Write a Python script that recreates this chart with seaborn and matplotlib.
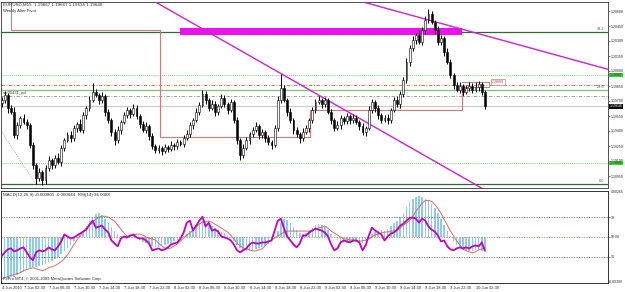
import numpy as np
import matplotlib
matplotlib.use("Agg")
import matplotlib.pyplot as plt
import seaborn as sns

sns.set_style("white")
plt.rcParams['font.family'] = ['Liberation Sans', 'DejaVu Sans']

# --- price bars at 30 min steps ---
closes = [1.1971, 1.1976, 1.1963, 1.1959, 1.1936, 1.1946, 1.1953, 1.1949, 1.1946, 1.1926,
          1.1906, 1.1893, 1.1899, 1.1891, 1.1903, 1.1911, 1.1906, 1.1913, 1.1909, 1.1923,
          1.1931, 1.1936, 1.1933, 1.1943, 1.1947, 1.1941, 1.1956, 1.1963, 1.1971, 1.1979,
          1.1976, 1.1971, 1.1975, 1.1959, 1.1951, 1.1939, 1.1931, 1.1941, 1.1949, 1.1956,
          1.1961, 1.1957, 1.1963, 1.1955, 1.1947, 1.1941, 1.1945, 1.1935, 1.1925, 1.1921,
          1.1923, 1.1920, 1.1924, 1.1922, 1.1926, 1.1925, 1.1929, 1.1927, 1.1933, 1.1937,
          1.1946, 1.1951, 1.1959, 1.1966, 1.1977, 1.1971, 1.1963, 1.1967, 1.1959, 1.1965,
          1.1973, 1.1967, 1.1961, 1.1969, 1.1951, 1.1931, 1.1916, 1.1923, 1.1931, 1.1937,
          1.1941, 1.1945, 1.1936, 1.1939, 1.1933, 1.1929, 1.1926, 1.1943, 1.1971, 1.1983,
          1.1971, 1.1959, 1.1951, 1.1941, 1.1937, 1.1933, 1.1939, 1.1943, 1.1951, 1.1961,
          1.1969, 1.1971, 1.1967, 1.1971, 1.1959, 1.1951, 1.1943, 1.1946, 1.1953, 1.1950,
          1.1955, 1.1951, 1.1953, 1.1949, 1.1945, 1.1939, 1.1943, 1.1961, 1.1969, 1.1963,
          1.1956, 1.1951, 1.1953, 1.1951, 1.1961, 1.1971, 1.1967, 1.1977, 1.1991, 1.2009,
          1.2023, 1.2031, 1.2036, 1.2029, 1.2041, 1.2051, 1.2057, 1.2049, 1.2041, 1.2029,
          1.2033, 1.2019, 1.2009, 1.1996, 1.1986, 1.1981, 1.1985, 1.1979, 1.1983, 1.1985,
          1.1981, 1.1984, 1.1987, 1.1979, 1.19648]
first_open = 1.1968
# wick lengths in pips
wick_up = [3, 4, 2, 3, 5, 3, 2, 4, 3, 2,
           3, 2, 4, 2, 3, 4, 2, 3, 5, 3,
           2, 3, 4, 3, 2, 5, 3, 2, 4, 9,
           3, 2, 4, 2, 3, 2, 3, 4, 2, 3,
           3, 2, 4, 3, 2, 3, 4, 2, 3, 2,
           3, 2, 3, 2, 4, 2, 3, 2, 3, 4,
           3, 2, 4, 3, 4, 3, 2, 4, 3, 2,
           4, 3, 2, 3, 2, 3, 2, 4, 3, 2,
           3, 4, 2, 3, 2, 3, 2, 3, 4, 14,
           3, 2, 4, 2, 3, 2, 4, 3, 2, 3,
           3, 4, 2, 3, 2, 3, 2, 4, 3, 2,
           3, 2, 4, 3, 2, 3, 2, 4, 3, 2,
           3, 2, 3, 4, 2, 3, 4, 3, 3, 4,
           3, 4, 2, 5, 3, 4, 5, 3, 2, 4,
           3, 2, 4, 3, 2, 3, 4, 2, 3, 4,
           3, 5, 3, 2, 2]
wick_dn = [4, 3, 5, 2, 3, 4, 3, 2, 4, 3,
           4, 6, 3, 5, 4, 3, 4, 3, 2, 4,
           3, 2, 4, 3, 4, 2, 3, 4, 3, 2,
           2, 4, 3, 4, 3, 4, 5, 3, 4, 2,
           3, 4, 2, 3, 4, 2, 3, 4, 3, 3,
           3, 4, 2, 3, 2, 4, 3, 2, 3, 2,
           3, 4, 2, 3, 2, 4, 3, 2, 4, 3,
           2, 3, 4, 2, 3, 4, 5, 3, 2, 4,
           3, 2, 4, 3, 4, 3, 4, 2, 3, 3,
           2, 4, 3, 4, 3, 5, 3, 2, 4, 3,
           3, 2, 4, 3, 2, 4, 3, 2, 4, 3,
           3, 4, 3, 2, 4, 3, 4, 2, 3, 4,
           4, 3, 2, 4, 3, 2, 3, 4, 3, 3,
           4, 3, 4, 2, 3, 4, 3, 2, 4, 3,
           3, 4, 2, 3, 4, 2, 3, 4, 2, 3,
           3, 2, 4, 3, 3]

# --- MACD(12,26,9) main and signal, in 1e-5 ---
macd_main = np.array([
    -258, -252, -246, -240, -240, -228, -216, -210, -198, -186,
    -180, -180, -174, -168, -162, -150, -144, -132, -120, -102,
    -84, -66, -48, -24, -6, 12, 36, 66, 96, 120,
    138, 144, 132, 108, 84, 60, 36, 18, 6, 0,
    6, 12, 6, -6, -18, -30, -36, -48, -54, -60,
    -60, -54, -48, -42, -36, -24, -18, -6, 6, 18,
    36, 54, 72, 84, 96, 90, 78, 66, 54, 42,
    30, 24, 12, -6, -24, -48, -66, -78, -84, -84,
    -78, -72, -66, -60, -54, -42, -24, 0, 36, 84,
    108, 102, 84, 60, 42, 24, 18, 24, 36, 54,
    72, 78, 72, 60, 42, 18, 0, -18, -30, -36,
    -36, -36, -30, -30, -36, -36, -24, -6, 18, 30,
    36, 42, 36, 48, 66, 84, 96, 120, 144, 180,
    210, 228, 240, 246, 240, 228, 216, 198, 174, 144,
    108, 72, 36, 6, -24, -48, -66, -78, -84, -84,
    -84, -78, -78, -84, -80]) / 1e5
macd_signal = np.array([
    -252, -246, -240, -234, -228, -222, -216, -204, -198, -192,
    -186, -192, -198, -204, -198, -186, -180, -174, -162, -150,
    -132, -108, -78, -48, -18, 6, 30, 54, 72, 90,
    108, 120, 126, 126, 120, 108, 96, 72, 48, 24,
    6, 6, 12, 18, 18, 12, 0, -6, -12, -18,
    -36, -54, -66, -72, -66, -54, -42, -24, -6, 12,
    24, 42, 60, 78, 90, 96, 96, 90, 78, 66,
    54, 42, 30, 12, -12, -36, -54, -66, -72, -78,
    -84, -84, -78, -72, -54, -30, -18, -6, 6, 18,
    30, 36, 36, 36, 36, 36, 36, 36, 36, 42,
    48, 54, 60, 66, 54, 36, 24, 12, 0, -12,
    -12, -18, -18, -24, -24, -24, -18, -12, 0, 12,
    18, 24, 30, 30, 36, 36, 42, 54, 72, 84,
    102, 126, 156, 180, 204, 222, 222, 216, 198, 174,
    144, 108, 72, 36, 6, -24, -48, -72, -84, -90,
    -96, -90, -78, -72, -64]) / 1e5

# --- RSI(14) ---
rsi = [30.5, 34.5, 37.5, 38.5, 35.5, 36.5, 38.5, 39.5, 34.5, 29.5,
       26.5, 34.5, 36.5, 35.5, 36.5, 39.5, 37.5, 36.5, 40.5, 45.5,
       52.5, 50.5, 48.5, 49.5, 51.5, 53.5, 55.5, 57.5, 62.5, 66.5,
       59.5, 60.5, 61.5, 57.5, 54.5, 46.5, 43.5, 40.5, 48.5, 50.5,
       49.5, 51.5, 52.5, 49.5, 48.5, 48.5, 46.5, 43.5, 36.5, 37.5,
       38.5, 36.5, 37.5, 39.5, 42.5, 43.5, 44.5, 48.5, 54.5, 64.5,
       66.5, 56.5, 61.5, 66.5, 70.5, 60.5, 64.5, 56.5, 57.5, 55.5,
       50.5, 49.5, 48.5, 46.5, 42.5, 36.5, 34.5, 36.5, 38.5, 42.5,
       44.5, 43.5, 43.5, 44.5, 44.5, 45.5, 46.5, 56.5, 66.5, 68.5,
       58.5, 50.5, 46.5, 42.5, 39.5, 43.5, 51.5, 51.5, 54.5, 56.5,
       58.5, 57.5, 56.5, 54.5, 50.5, 42.5, 36.5, 38.5, 44.5, 46.5,
       45.5, 44.5, 46.5, 46.5, 44.5, 36.5, 41.5, 51.5, 59.5, 56.5,
       54.5, 52.5, 46.5, 50.5, 53.5, 54.5, 57.5, 61.5, 63.5, 66.5,
       69.5, 69.5, 68.5, 64.5, 68.5, 66.5, 60.5, 57.5, 55.5, 51.5,
       45.5, 46.5, 40.5, 37.5, 36.5, 38.5, 39.5, 38.5, 39.5, 38.5,
       40.5, 41.5, 40.5, 44.5, 36.04]

# --- objects drawn on the chart ---
fib_levels = [1.2039, 1.1981, 1.1887]
fib_names = ["38.2", "23.6", "0.0"]
fib_colors = ["#2e6b2e", "#7fbf7f", "#2e6b2e"]
green_dotted = [1.1996, 1.1908]
brown_dashdot = 1.1986
gray_dashdot = 1.1975
bid = 1.19648
zone_x = [56.8, 146.6]
zone_y = [1.2036, 1.2043]
trend1_x, trend1_y = [47.9, 154.0], [1.2071, 1.1881]
trend2_x, trend2_y = [114.0, 194.0], [1.2070, 1.2001]
step_x = [3.0, 3.0, 50.5, 50.5, 98.2, 98.2, 146.6, 146.6]
step_y = [1.2080, 1.2041, 1.2041, 1.1934, 1.1934, 1.1961, 1.1961, 1.1984]
box_x, box_y = [146.6, 155.2], [1.1984, 1.1989]
diag_x, diag_y = [0.1, 10.0], [1.1939, 1.1891]

price_ticks = [1.2060, 1.2045, 1.2030, 1.2015, 1.2000, 1.1985, 1.1970,
               1.1955, 1.1940, 1.1925, 1.1910, 1.1895]
time_labels = ["4 Jun 2010", "7 Jun 02:30", "7 Jun 06:30", "7 Jun 10:30", "7 Jun 14:30",
               "7 Jun 18:30", "7 Jun 22:30", "8 Jun 02:30", "8 Jun 06:30", "8 Jun 10:30",
               "8 Jun 14:30", "8 Jun 18:30", "8 Jun 22:30", "9 Jun 02:30", "9 Jun 06:30",
               "9 Jun 10:30", "9 Jun 14:30", "9 Jun 18:30", "9 Jun 22:30", "10 Jun 02:30"]
time_ticks = [0] + [7 + 8 * k for k in range(19)]

n = len(closes)
bars = np.arange(n)
opens = np.array([first_open] + closes[:-1])
closes = np.array(closes)
highs = np.maximum(opens, closes) + np.array(wick_up) * 1e-4
lows = np.minimum(opens, closes) - np.array(wick_dn) * 1e-4

W, H = 625, 292
fig = plt.figure(figsize=(W / 100, H / 100), dpi=100)
fig.patch.set_facecolor("white")
ax = fig.add_axes([1 / W, (H - 188) / H, 607 / W, 186 / H])
ax_ind = fig.add_axes([1 / W, (H - 283) / H, 607 / W, 92 / H])
xlim = (-0.18, 193.2)
FS = 2.9
FSR = 2.55

# main pane
ax.set_xlim(*xlim)
ax.set_ylim(1.1883, 1.2069)
for lvl, c in zip(fib_levels, fib_colors):
    ax.axhline(lvl, color=c, lw=0.9, zorder=1)
for lvl in green_dotted:
    ax.axhline(lvl, color="#44c044", lw=0.6, ls=(0, (1, 1.5)), zorder=1)
ax.axhline(brown_dashdot, color="#b8704a", lw=0.6, ls=(0, (4, 2, 1, 2)), zorder=1)
ax.axhline(gray_dashdot, color="#909090", lw=0.6, ls=(0, (4, 2, 1, 2)), zorder=1)
ax.axhline(bid, color="#c8c8c8", lw=0.8, zorder=1)
ax.fill_between(zone_x, zone_y[0], zone_y[1], color="#ee10ee", lw=0, zorder=2)
ax.plot(step_x, step_y, color="#d07a7a", lw=0.8, zorder=2)
ax.plot([box_x[0], box_x[1], box_x[1], box_x[0]], [box_y[1], box_y[1], box_y[0], box_y[0]],
        color="#d07a7a", lw=0.7, zorder=2)
ax.plot(diag_x, diag_y, color="#c08878", lw=0.6, ls=":", zorder=2)
ax.plot(trend1_x, trend1_y, color="#cc22cc", lw=1.0, zorder=3)
ax.plot(trend2_x, trend2_y, color="#cc22cc", lw=1.0, zorder=3)

# candles
ax.vlines(bars, lows, highs, color="black", lw=0.7, zorder=4)
up = closes >= opens
body_h = np.maximum(np.abs(closes - opens), 0.00004)
body_b = np.minimum(opens, closes)
ax.bar(bars[up], body_h[up], bottom=body_b[up], width=0.6, color="white",
       edgecolor="black", lw=0.4, zorder=5)
ax.bar(bars[~up], body_h[~up], bottom=body_b[~up], width=0.6, color="black",
       edgecolor="black", lw=0.4, zorder=5)

ax.yaxis.tick_right()
ax.set_yticks(price_ticks)
ax.set_yticklabels([f"{p:.5f}" for p in price_ticks], fontsize=FSR)
ax.set_xticks([])
ax.tick_params(axis="y", direction="out", length=1.5, width=0.4, pad=0.6)
for s in ax.spines.values():
    s.set_linewidth(0.6)
    s.set_color("#333333")

for lvl, name in zip(fib_levels, fib_names):
    ax.text(192.0, lvl + 0.00008, name, fontsize=2.8, color="#555555", ha="right", va="bottom")
for lvl in green_dotted:
    ax.annotate(f"{lvl:.5f}", xy=(1.0, lvl), xycoords=("axes fraction", "data"),
                xytext=(1.2, 0), textcoords="offset points", fontsize=FSR, va="center",
                bbox=dict(boxstyle="square,pad=0.12", fc="#33dd33", ec="none"))
ax.annotate(f"{bid:.5f}", xy=(1.0, bid), xycoords=("axes fraction", "data"),
            xytext=(1.2, 0), textcoords="offset points", fontsize=FSR, va="center", color="white",
            bbox=dict(boxstyle="square,pad=0.12", fc="black", ec="none"))
ax.text(156.0, box_y[1], f"{box_y[1]:.5f}", fontsize=2.6, color="#c04040", va="center",
        bbox=dict(boxstyle="square,pad=0.15", fc="white", ec="#d07a7a", lw=0.5))
ax.text(0.5, gray_dashdot + 0.0003, "ssr05431_ed", fontsize=3.0, color="#333333")

# indicator pane
ax_ind.set_xlim(*xlim)
ax_ind.set_ylim(-0.00279, 0.00279)
ax_ind.bar(bars, macd_main, width=0.5, color="#8ecbe8", lw=0, zorder=1)
sns.lineplot(x=bars, y=macd_signal, ax=ax_ind, color="#cd7060", lw=0.7, zorder=2)
ax_ind.set_yticks([])
ax_ind.set_ylabel("")
ax_ind.set_xticks(time_ticks)
ax_ind.set_xticklabels(time_labels, fontsize=FS, ha="left")
ax_ind.tick_params(axis="x", direction="out", length=1.5, width=0.4, pad=0.8)

ax_rsi = ax_ind.twinx()
ax_rsi.set_ylim(3.5, 96.5)
for lvl, c in [(70, "#707070"), (50, "#c08070"), (30, "#707070")]:
    ax_rsi.axhline(lvl, color=c, lw=0.6, ls=(0, (1.5, 1.5)), zorder=1)
sns.lineplot(x=bars, y=rsi, ax=ax_rsi, color="#c000c0", lw=1.3, zorder=3)
ax_rsi.set_yticks([70, 50, 30])
ax_rsi.set_yticklabels(["70", "50.00", "30"], fontsize=FSR)
ax_rsi.set_ylabel("")
ax_rsi.tick_params(axis="y", direction="out", length=1.5, width=0.4, pad=0.6)
for a in (ax_ind, ax_rsi):
    for s in a.spines.values():
        s.set_linewidth(0.6)
        s.set_color("#333333")
ax_rsi.text(1.004, 0.985, "0.00265", transform=ax_rsi.transAxes, fontsize=FSR, va="center")
ax_rsi.text(1.002, 0.012, "-0.00300", transform=ax_rsi.transAxes, fontsize=FSR, va="center")

# header texts
fig.text(3 / W, 1 - 5 / H, "EURUSD,M15  1.19667 1.19667 1.19634 1.19648", fontsize=3.2, va="center")
fig.text(3 / W, 1 - 11 / H, "Weekly Alter Pivot", fontsize=3.0, va="center")
fig.text(3 / W, 1 - 195 / H, "MACD(12,26,9) -0.000801 -0.000644  RSI(14) 36.0388",
         fontsize=3.2, va="center")
fig.text(3 / W, 1 - 279 / H, "FxPro MT4, \u00a9 2001-2009 MetaQuotes Software Corp.",
         fontsize=3.0, va="center")

fig.savefig("out.png", dpi=100)
